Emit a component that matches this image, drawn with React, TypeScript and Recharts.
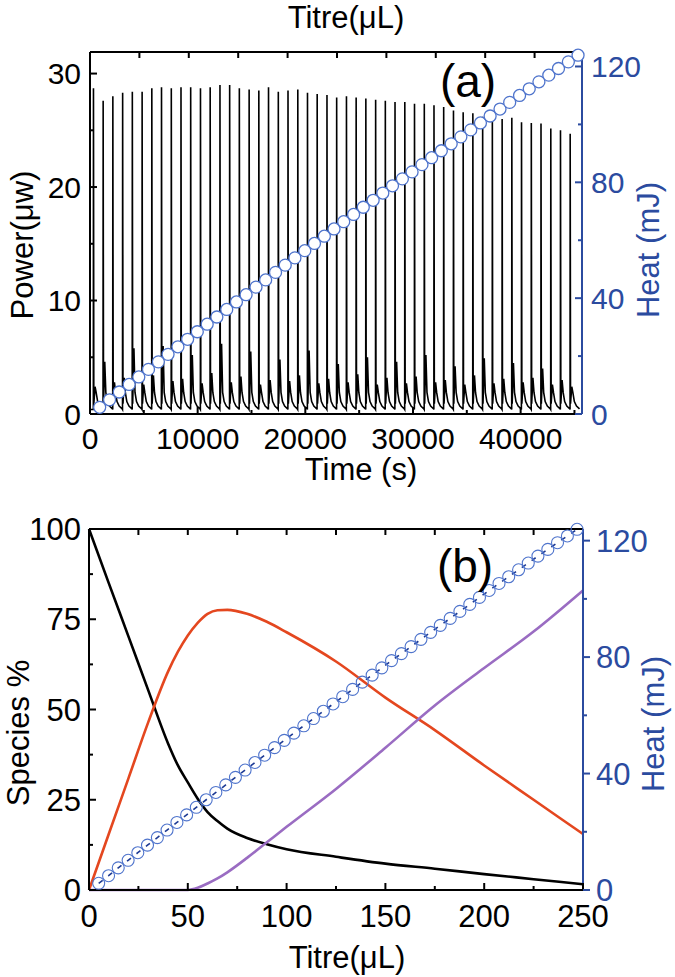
import { ComposedChart, Line, XAxis, YAxis } from 'recharts'

const FONT = '"Liberation Sans", Arial, sans-serif'
const BLUE = '#2b4b9f'
const CIRCLE = '#4f74cc'

// ---- panel (a): raw power trace ----
const INJECTION_TIMES = [
  310, 1210, 2110, 3020, 3920, 4830, 5730, 6630, 7540, 8440,
  9340, 10250, 11150, 12060, 12960, 13860, 14770, 15670, 16570, 17480,
  18380, 19290, 20190, 21090, 22000, 22900, 23810, 24710, 25610, 26520,
  27420, 28320, 29230, 30130, 31040, 31940, 32840, 33750, 34650, 35550,
  36460, 37360, 38270, 39170, 40070, 40980, 41880, 42790, 43690, 44590,
]
const PEAKS = [
  28.7, 27.6, 28.0, 28.3, 28.4, 28.4, 28.7, 28.8, 28.7, 28.8,
  28.8, 28.7, 28.8, 29.0, 29.0, 28.7, 28.6, 28.5, 28.8, 28.4,
  28.5, 28.6, 28.3, 28.2, 28.1, 27.9, 28.0, 27.9, 27.8, 27.7,
  27.6, 27.5, 27.5, 27.35, 27.35, 27.2, 27.05, 26.75, 26.6, 26.5,
  26.2, 26.3, 26.0, 26.1, 25.7, 25.65, 25.6, 25.15, 25.0, 24.7,
]
// small after-peak bump seen as a grey line beside each spike
const BUMPS = [
  2.4, 4.6, 2.8, 3.2, 5.8, 2.6, 3.4, 6.0, 2.9, 3.1,
  5.2, 2.7, 3.6, 6.2, 2.8, 3.3, 5.5, 2.6, 3.0, 4.8,
  2.9, 3.4, 5.6, 2.7, 3.1, 4.4, 2.8, 3.5, 5.0, 2.6,
  3.2, 4.6, 2.7, 3.3, 5.2, 2.8, 3.0, 4.2, 2.6, 3.4,
  4.9, 2.7, 3.1, 4.5, 2.8, 3.2, 4.0, 2.6, 3.0, 2.4,
]
const BASELINE = 0.4
const PEAK_DT = 12
const BUMP_DT = 160
const FALL_DT = 45
const FALL_LEVEL = 0.9
const TAIL_DT = [260, 400, 600, 880]
const TAIL_LEVEL = [1.9, 1.1, 0.7, 0.45]

// cumulative heat, one point per injection
const INJ_TITRE = [
  4.9, 9.9, 14.8, 19.8, 24.7, 29.6, 34.6, 39.5, 44.5, 49.4,
  54.3, 59.3, 64.2, 69.2, 74.1, 79.0, 84.0, 88.9, 93.9, 98.8,
  103.7, 108.7, 113.6, 118.6, 123.5, 128.4, 133.4, 138.3, 143.3, 148.2,
  153.1, 158.1, 163.0, 168.0, 172.9, 177.8, 182.8, 187.7, 192.7, 197.6,
  202.5, 207.5, 212.4, 217.4, 222.3, 227.2, 232.2, 237.1, 242.1, 247.0,
]
const HEAT = [
  2.3, 4.9, 7.6, 10.2, 12.8, 15.4, 18.0, 20.6, 23.2, 25.8,
  28.4, 31.0, 33.5, 36.1, 38.7, 41.2, 43.8, 46.3, 48.9, 51.4,
  53.9, 56.4, 58.9, 61.4, 63.9, 66.4, 68.9, 71.4, 73.8, 76.3,
  78.8, 81.2, 83.6, 86.1, 88.5, 90.9, 93.3, 95.7, 98.1, 100.5,
  102.9, 105.3, 107.6, 110.0, 112.3, 114.7, 117.0, 119.3, 121.6, 123.9,
]

// ---- panel (b): species distribution ----
const TITRE = [0, 10, 20, 30, 40, 45, 50, 55, 60, 65, 70, 80, 90, 100, 125, 150, 175, 200, 225, 250]
const SPECIES_BLACK = [100, 85, 70.2, 55.3, 40.6, 34.5, 29.8, 25.3, 21.6, 19.1, 17.0, 14.4, 12.7, 11.3, 9.2, 7.3, 5.9, 4.4, 3.0, 1.6]
const SPECIES_RED = [0, 15.5, 31, 46.5, 60.5, 66, 70.5, 74, 76.5, 77.5, 77.6, 76.5, 74.3, 71.4, 63.3, 53.3, 44.3, 34.5, 25, 15.5]
const SPECIES_PURPLE = [0, 0, 0, 0, 0, 0, 0, 0.6, 1.8, 3.2, 4.9, 8.9, 13.2, 17.5, 28.0, 39.4, 51.1, 61.5, 71.6, 83.0]

const TIME_TICKS = [0, 5000, 10000, 15000, 20000, 25000, 30000, 35000, 40000, 45000]
const TIME_MAJOR = [0, 10000, 20000, 30000, 40000]
const POWER_TICKS = [0, 5, 10, 15, 20, 25, 30]
const POWER_MAJOR = [0, 10, 20, 30]
const HEAT_TICKS = [0, 20, 40, 60, 80, 100, 120]
const HEAT_MAJOR = [0, 40, 80, 120]
const TOP_TITRE_TICKS = [25, 50, 75, 100, 125, 150, 175, 200, 225]
const TITRE_TICKS = [0, 25, 50, 75, 100, 125, 150, 175, 200, 225, 250]
const TITRE_MAJOR = [0, 50, 100, 150, 200, 250]
const SPECIES_TICKS = [0, 12.5, 25, 37.5, 50, 62.5, 75, 87.5, 100]
const SPECIES_MAJOR = [0, 25, 50, 75, 100]

const powerData: { t: number; p: number }[] = [{ t: 0, p: BASELINE }]
INJECTION_TIMES.forEach((t0, i) => {
  powerData.push({ t: t0, p: BASELINE })
  powerData.push({ t: t0 + PEAK_DT, p: PEAKS[i] })
  powerData.push({ t: t0 + FALL_DT, p: FALL_LEVEL })
  powerData.push({ t: t0 + BUMP_DT, p: BUMPS[i] })
  TAIL_DT.forEach((dt, j) => powerData.push({ t: t0 + dt, p: TAIL_LEVEL[j] }))
})
const heatData = INJ_TITRE.map((titre, i) => ({ titre, heat: HEAT[i] }))
const speciesData = TITRE.map((titre, i) => ({
  titre,
  black: SPECIES_BLACK[i],
  red: SPECIES_RED[i],
  purple: SPECIES_PURPLE[i],
}))

type TickOpts = {
  side: 'left' | 'right' | 'bottom' | 'top'
  edge: number
  majors?: number[]
  inward: boolean
  gap: number
  size: number
  color: string
  labels: boolean
}

const makeTick = (o: TickOpts) => (props: any) => {
  const c = props.payload.coordinate
  const v = props.payload.value
  const major = o.majors ? o.majors.includes(v) : true
  const len = major ? 7 : 4
  const d = o.inward ? 1 : -1
  const showLabel = o.labels && major
  const common = { fontSize: o.size, fill: o.color, fontFamily: FONT }
  if (o.side === 'left') {
    return (
      <g>
        <line x1={o.edge} x2={o.edge + d * len} y1={c} y2={c} stroke={o.color} strokeWidth={2} />
        {showLabel && <text x={o.edge - o.gap} y={c} dy="0.36em" textAnchor="end" {...common}>{v}</text>}
      </g>
    )
  }
  if (o.side === 'right') {
    return (
      <g>
        <line x1={o.edge} x2={o.edge - d * len} y1={c} y2={c} stroke={o.color} strokeWidth={2} />
        {showLabel && <text x={o.edge + o.gap} y={c} dy="0.36em" textAnchor="start" {...common}>{v}</text>}
      </g>
    )
  }
  if (o.side === 'bottom') {
    return (
      <g>
        <line x1={c} x2={c} y1={o.edge} y2={o.edge - d * len} stroke={o.color} strokeWidth={2} />
        {showLabel && <text x={c} y={o.edge + o.gap} dy="0.72em" textAnchor="middle" {...common}>{v}</text>}
      </g>
    )
  }
  return (
    <g>
      <line x1={c} x2={c} y1={o.edge} y2={o.edge + d * 6} stroke={o.color} strokeWidth={2} />
    </g>
  )
}

// plot boxes (chart coordinates)
const A = { l: 90, r: 582, t: 52, b: 414 }
const B = { l: 89, r: 583, t: 59, b: 420 }

const blackAxis = { stroke: '#000', strokeWidth: 2 }
const blueAxis = { stroke: BLUE, strokeWidth: 2 }

function PanelA() {
  return (
    <ComposedChart width={675} height={470} margin={{ top: A.t - 12, right: 675 - A.r - 60, bottom: 470 - A.b - 40, left: A.l - 60 }}>
      <XAxis xAxisId="time" dataKey="t" type="number" domain={[0, 45700]} ticks={TIME_TICKS} interval={0} height={40}
        axisLine={blackAxis} tickLine={false}
        tick={makeTick({ side: 'bottom', edge: A.b, majors: TIME_MAJOR, inward: true, gap: 13, size: 30, color: '#000', labels: true })} />
      <XAxis xAxisId="titre" orientation="top" dataKey="titre" type="number" domain={[0, 249]} ticks={TOP_TITRE_TICKS} interval={0} height={12}
        axisLine={blackAxis} tickLine={false}
        tick={makeTick({ side: 'top', edge: A.t, inward: true, gap: 0, size: 30, color: '#000', labels: false })} />
      <YAxis yAxisId="power" type="number" domain={[0, 31.9]} ticks={POWER_TICKS} interval={0} width={60}
        axisLine={blackAxis} tickLine={false}
        tick={makeTick({ side: 'left', edge: A.l, majors: POWER_MAJOR, inward: true, gap: 9, size: 30, color: '#000', labels: true })} />
      <YAxis yAxisId="heat" orientation="right" type="number" domain={[0, 125]} ticks={HEAT_TICKS} interval={0} width={60}
        axisLine={blueAxis} tickLine={false}
        tick={makeTick({ side: 'right', edge: A.r, majors: HEAT_MAJOR, inward: true, gap: 9, size: 30, color: BLUE, labels: true })} />
      <Line xAxisId="time" yAxisId="power" data={powerData} dataKey="p" type="linear" stroke="#000" strokeWidth={1.6}
        dot={false} isAnimationActive={false} />
      <Line xAxisId="titre" yAxisId="heat" data={heatData} dataKey="heat" type="linear" stroke="none"
        dot={{ r: 6, fill: '#fff', stroke: CIRCLE, strokeWidth: 1.3 }} isAnimationActive={false} />
    </ComposedChart>
  )
}

function PanelB() {
  return (
    <ComposedChart width={675} height={507} margin={{ top: B.t - 12, right: 675 - B.r - 60, bottom: 507 - B.b - 40, left: B.l - 60 }}>
      <XAxis xAxisId="titre" dataKey="titre" type="number" domain={[0, 250]} ticks={TITRE_TICKS} interval={0} height={40}
        axisLine={blackAxis} tickLine={false}
        tick={makeTick({ side: 'bottom', edge: B.b, majors: TITRE_MAJOR, inward: true, gap: 15, size: 31, color: '#000', labels: true })} />
      <XAxis xAxisId="top" orientation="top" dataKey="titre" type="number" domain={[0, 250]} ticks={TOP_TITRE_TICKS} interval={0} height={12}
        axisLine={blackAxis} tickLine={false}
        tick={makeTick({ side: 'top', edge: B.t, inward: true, gap: 0, size: 31, color: '#000', labels: false })} />
      <YAxis yAxisId="species" type="number" domain={[0, 100]} ticks={SPECIES_TICKS} interval={0} width={60}
        axisLine={blackAxis} tickLine={false}
        tick={makeTick({ side: 'left', edge: B.l, majors: SPECIES_MAJOR, inward: true, gap: 8, size: 31, color: '#000', labels: true })} />
      <YAxis yAxisId="heat" orientation="right" type="number" domain={[0, 124]} ticks={HEAT_TICKS} interval={0} width={60}
        axisLine={blueAxis} tickLine={false}
        tick={makeTick({ side: 'right', edge: B.r, majors: HEAT_MAJOR, inward: false, gap: 13, size: 31, color: BLUE, labels: true })} />
      <Line xAxisId="top" yAxisId="heat" data={heatData} dataKey="heat" type="linear" stroke="#1d3a94" strokeWidth={1.6}
        strokeDasharray="5 7" dot={{ r: 6, fill: 'none', stroke: CIRCLE, strokeWidth: 1.1, strokeDasharray: 'none' }}
        isAnimationActive={false} />
      <Line xAxisId="titre" yAxisId="species" data={speciesData} dataKey="black" type="monotone" stroke="#000" strokeWidth={2.6}
        dot={false} isAnimationActive={false} />
      <Line xAxisId="titre" yAxisId="species" data={speciesData} dataKey="red" type="monotone" stroke="#e4471f" strokeWidth={2.6}
        dot={false} isAnimationActive={false} />
      <Line xAxisId="titre" yAxisId="species" data={speciesData} dataKey="purple" type="monotone" stroke="#9a6cc2" strokeWidth={2.6}
        dot={false} isAnimationActive={false} />
    </ComposedChart>
  )
}

export default function App() {
  const t = { fontFamily: FONT, fontSize: 31, textAnchor: 'middle' as const }
  return (
    <div style={{ position: 'absolute', left: 0, top: 0, width: 675, height: 977, background: '#fff' }}>
      <div style={{ position: 'absolute', left: 0, top: 0 }}>
        <PanelA />
      </div>
      <div style={{ position: 'absolute', left: 0, top: 470 }}>
        <PanelB />
      </div>
      <svg width={675} height={977} style={{ position: 'absolute', left: 0, top: 0, pointerEvents: 'none' }}>
        <text x={346} y={28} {...t}>Titre(μL)</text>
        <text x={361} y={480} {...t}>Time (s)</text>
        <text transform="translate(33,245) rotate(-90)" {...t}>Power(μw)</text>
        <text transform="translate(659,250) rotate(-90)" {...t} fill={BLUE}>Heat (mJ)</text>
        <text x={468} y={97} {...t} fontSize={46}>(a)</text>
        <text x={465} y={582} {...t} fontSize={46}>(b)</text>
        <text transform="translate(29,733) rotate(-90)" {...t}>Species %</text>
        <text transform="translate(664,724) rotate(-90)" {...t} fill={BLUE}>Heat (mJ)</text>
        <text x={347} y={968} {...t}>Titre(μL)</text>
      </svg>
    </div>
  )
}
